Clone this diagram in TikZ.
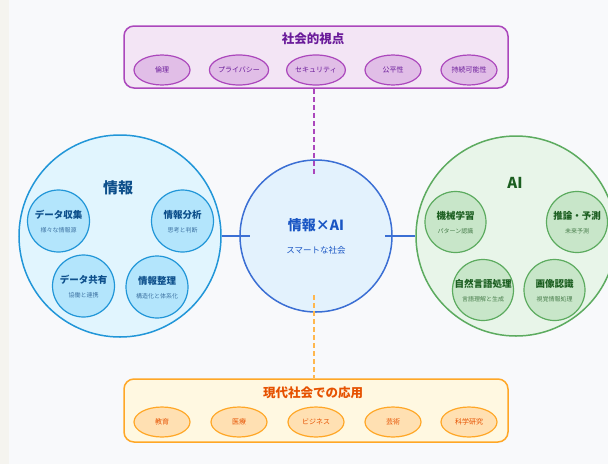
\documentclass[tikz,border=0pt]{standalone}
\usepackage{fontspec}
\setmainfont{Noto Sans CJK JP}
\usetikzlibrary{shapes.geometric}
\definecolor{bgc}{HTML}{F8F9FB}
\definecolor{stripc}{HTML}{F5F4EF}
\definecolor{purB}{HTML}{AB47BC}
\definecolor{purF}{HTML}{F3E5F5}
\definecolor{purE}{HTML}{E1BEE7}
\definecolor{purT}{HTML}{6A1B9A}
\definecolor{cenB}{HTML}{3B6FD4}
\definecolor{cenF}{HTML}{E3F2FD}
\definecolor{cenT}{HTML}{1A56C4}
\definecolor{infB}{HTML}{2196D8}
\definecolor{infF}{HTML}{E1F5FE}
\definecolor{infS}{HTML}{B3E5FC}
\definecolor{infT}{HTML}{0D4F8B}
\definecolor{aiB}{HTML}{5CAB5F}
\definecolor{aiF}{HTML}{E8F5E9}
\definecolor{aiS}{HTML}{C8E6C9}
\definecolor{aiT}{HTML}{1B5E20}
\definecolor{orB}{HTML}{FFA726}
\definecolor{orF}{HTML}{FFF8E1}
\definecolor{orE}{HTML}{FFE0B2}
\definecolor{orT}{HTML}{E65100}
\definecolor{orD}{HTML}{FFB74D}
\tikzset{
  panel/.style={rounded corners=10pt, line width=1.5pt},
  pell/.style={ellipse, draw=purB, fill=purE, line width=1.2pt, minimum width=56pt, minimum height=30pt, inner sep=0pt, text=purT, font=\fontsize{7}{8}\selectfont},
  oell/.style={ellipse, draw=orB, fill=orE, line width=1.2pt, minimum width=56pt, minimum height=30pt, inner sep=0pt, text=orT, font=\fontsize{7}{8}\selectfont},
  bigc/.style={circle, line width=1.5pt, inner sep=0pt},
  isub/.style={circle, draw=infB, fill=infS, line width=1.2pt, minimum size=62pt, inner sep=0pt},
  asub/.style={circle, draw=aiB, fill=aiS, line width=1.2pt, minimum size=61pt, inner sep=0pt},
  stitle/.style={font=\bfseries\fontsize{9.5}{11}\selectfont},
  ssub/.style={font=\fontsize{6}{7}\selectfont},
  link/.style={draw=cenB, line width=2pt},
}
\begin{document}
\begin{tikzpicture}[x=1pt,y=-1pt]
\fill[stripc] (0,0) rectangle (608,464);
\fill[bgc] (9,0) rectangle (608,464);
\useasboundingbox (0,0) rectangle (608,464);

% top panel
\node[panel, draw=purB, fill=purF, minimum width=384pt, minimum height=62pt, inner sep=0pt] (top) at (316,57) {};
\node[text=purT, font=\bfseries\fontsize{12.5}{14}\selectfont] (toptitle) at (313,39) {社会的視点};
\node[pell] (p1) at (162,70) {倫理};
\node[pell] (p2) at (239,70) {プライバシー};
\node[pell] (p3) at (316,70) {セキュリティ};
\node[pell] (p4) at (393,70) {公平性};
\node[pell] (p5) at (469,70) {持続可能性};

% bottom panel
\node[panel, draw=orB, fill=orF, minimum width=384pt, minimum height=63pt, inner sep=0pt] (bot) at (316,410.5) {};
\node[text=orT, font=\bfseries\fontsize{12.5}{14}\selectfont] (bottitle) at (313,393) {現代社会での応用};
\node[oell] (o1) at (162,422) {教育};
\node[oell] (o2) at (239,422) {医療};
\node[oell] (o3) at (316,422) {ビジネス};
\node[oell] (o4) at (393,422) {芸術};
\node[oell] (o5) at (469,422) {科学研究};

% info circle
\node[bigc, draw=infB, fill=infF, minimum size=202pt] (info) at (120,236) {};
\node[text=infT, font=\bfseries\fontsize{15}{17}\selectfont] (infotitle) at (118,188) {情報};
\node[isub] (i1) at (58.5,221) {};
\node[isub] (i2) at (182.5,221) {};
\node[isub] (i3) at (83.5,286) {};
\node[isub] (i4) at (157,287) {};
\foreach \n/\t/\s in {i1/データ収集/様々な情報源, i2/情報分析/思考と判断, i3/データ共有/協働と連携, i4/情報整理/構造化と体系化}{
  \node[stitle, text=infT] at ([yshift=6pt]\n.center) {\t};
  \node[ssub, text=infT!80] at ([yshift=-9pt]\n.center) {\s};
}

% AI circle
\node[bigc, draw=aiB, fill=aiF, minimum size=200pt] (ai) at (516,236) {};
\node[text=aiT, font=\bfseries\fontsize{15}{17}\selectfont] (aititle) at (515,183) {AI};
\node[asub] (a1) at (455.5,222) {};
\node[asub] (a2) at (577,222) {};
\node[asub] (a3) at (483,290) {};
\node[asub] (a4) at (554.5,290) {};
\foreach \n/\t/\s in {a1/機械学習/パターン認識, a2/推論・予測/未来予測, a3/自然言語処理/言語理解と生成, a4/画像認識/視覚情報処理}{
  \node[stitle, text=aiT] at ([yshift=6pt]\n.center) {\t};
  \node[ssub, text=aiT!80] at ([yshift=-9pt]\n.center) {\s};
}

% center circle
\node[bigc, draw=cenB, fill=cenF, minimum size=152pt] (cen) at (316,236) {};
\node[text=cenT, font=\bfseries\fontsize{14}{16}\selectfont] (centitle) at (316,225) {情報×AI};
\node[text=cenT, font=\fontsize{8.5}{10}\selectfont] (censub) at (316,250) {スマートな社会};

% connectors
\coordinate (cl) at (250,236);
\coordinate (cr) at (385,236);
\coordinate (ct) at (314,174);
\coordinate (cb) at (314,295);
\draw[link] (info.east) -- (cl);
\draw[link] (cr) -- (ai.west);
\draw[draw=purB, line width=1.8pt, dash pattern=on 5pt off 3pt] (top.south -| ct) -- (ct);
\draw[draw=orD, line width=1.8pt, dash pattern=on 5pt off 3pt] (cb) -- (bot.north -| cb);
\end{tikzpicture}
\end{document}
